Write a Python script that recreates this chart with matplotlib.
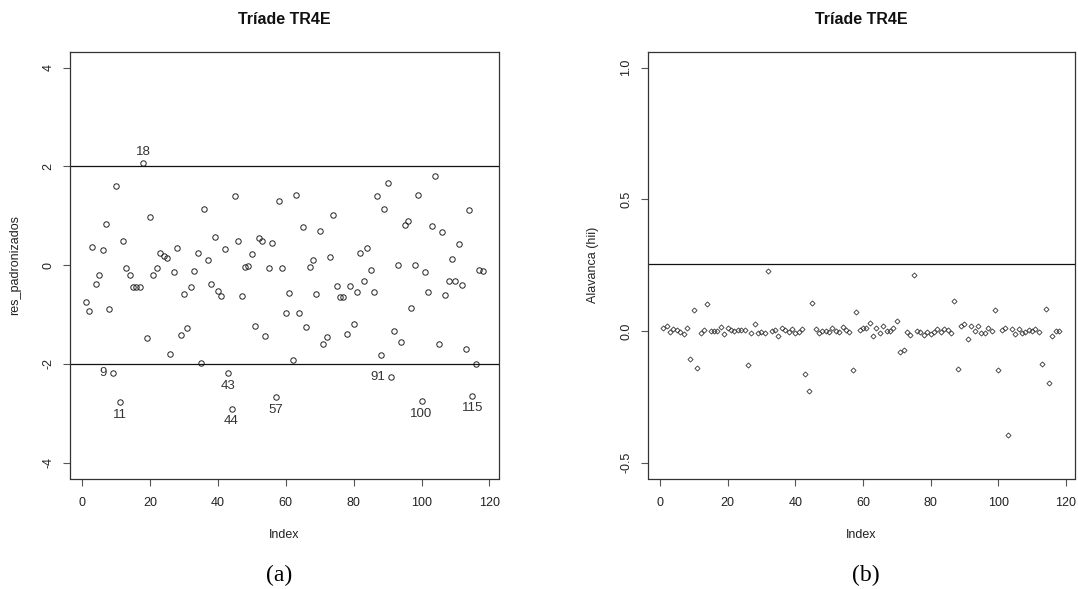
import matplotlib
matplotlib.use("Agg")
import matplotlib.pyplot as plt
import numpy as np

plt.rcParams['font.family'] = ['Liberation Sans', 'DejaVu Sans']

# ---- data ----
index = list(range(1, 119))

res_padronizados = [
    -0.745, -0.935, 0.365, -0.38, -0.20, 0.30, 0.84, -0.89, -2.19, 1.60,
    -2.78, 0.49, -0.05, -0.21, -0.44, -0.44, -0.44, 2.06, -1.48, 0.98,
    -0.21, -0.05, 0.24, 0.19, 0.15, -1.79, -0.14, 0.34, -1.42, -0.59,
    -1.28, -0.44, -0.11, 0.25, -1.98, 1.13, 0.11, -0.38, 0.56, -0.53,
    -0.63, 0.33, -2.19, -2.91, 1.40, 0.49, -0.63, -0.03, -0.02, 0.22,
    -1.23, 0.55, 0.49, -1.44, -0.05, 0.45, -2.68, 1.29, -0.06, -0.96,
    -0.56, -1.92, 1.41, -0.96, 0.78, -1.25, -0.03, 0.11, -0.59, 0.70,
    -1.59, -1.46, 0.17, 1.01, -0.43, -0.65, -0.65, -1.39, -0.43, -1.19,
    -0.54, 0.25, -0.33, 0.35, -0.10, -0.54, 1.40, -1.82, 1.13, 1.67,
    -2.27, -1.34, 0.00, -1.56, 0.81, 0.90, -0.86, 0.00, 1.41, -2.76,
    -0.14, -0.54, 0.80, 1.80, -1.59, 0.68, -0.61, -0.33, 0.12, -0.33,
    0.43, -0.40, -1.70, 1.12, -2.64, -2.00, -0.09, -0.11,
]

alavanca = [
    0.013, 0.017, -0.003, 0.007, 0.004, -0.003, -0.011, 0.013, -0.108, 0.081,
    -0.139, -0.006, 0.003, 0.102, 0.000, 0.000, 0.000, 0.016, -0.010, 0.010,
    0.003, 0.000, 0.003, 0.003, 0.003, -0.131, -0.009, 0.026, -0.009, -0.003,
    -0.009, 0.227, 0.000, 0.003, -0.018, 0.013, 0.004, -0.003, 0.007, -0.006,
    -0.003, 0.007, -0.165, -0.227, 0.105, 0.007, -0.006, 0.000, 0.000, -0.003,
    0.013, 0.000, -0.003, 0.016, 0.003, -0.003, -0.149, 0.072, 0.004, 0.010,
    0.010, 0.031, -0.021, 0.013, -0.009, 0.018, 0.000, 0.000, 0.010, 0.038,
    -0.080, -0.071, -0.003, -0.016, 0.214, 0.000, -0.003, -0.016, -0.003, -0.013,
    -0.003, 0.007, -0.003, 0.007, 0.003, -0.006, 0.112, -0.146, 0.018, 0.026,
    -0.030, 0.018, 0.000, 0.018, -0.009, -0.009, 0.010, 0.000, 0.078, -0.149,
    0.004, 0.010, -0.395, 0.007, -0.011, 0.007, -0.006, -0.003, 0.004, 0.000,
    0.007, -0.003, -0.126, 0.084, -0.199, -0.018, 0.000, 0.000,
]

res_limits = [-2, 2]
alavanca_limit = [0.254]

# labelled observations: (index, position)
label_ids = [9, 11, 18, 43, 44, 57, 91, 100, 115]
label_pos = ['left', 'below', 'above', 'below', 'below', 'below', 'left', 'below', 'below']

title = "Tríade TR4E"

# ---- figure ----
W, H = 1078, 589
fig = plt.figure(figsize=(W / 100, H / 100), dpi=100)

def px_axes(x0, x1, y0, y1):
    return fig.add_axes([x0 / W, 1 - y1 / H, (x1 - x0) / W, (y1 - y0) / H])

axA = px_axes(69.7, 498.5, 51.7, 478.5)
axB = px_axes(647.5, 1075.0, 51.7, 478.5)

spine_col = '#333333'
tick_col = '#555555'
text_col = '#222222'

for ax in (axA, axB):
    for s in ax.spines.values():
        s.set_color(spine_col)
        s.set_linewidth(0.9)
    ax.set_xlim(-3.68, 122.68)
    ax.set_xticks([0, 20, 40, 60, 80, 100, 120])
    ax.tick_params(axis='both', length=5, width=0.8, color=tick_col,
                   labelsize=9, labelcolor=text_col)
    ax.tick_params(axis='x', pad=8)
    ax.tick_params(axis='y', pad=6, labelrotation=90)

# panel (a)
axA.set_ylim(-4.32, 4.32)
axA.set_yticks([-4, -2, 0, 2, 4])
axA.set_yticklabels(['-4', '-2', '0', '2', '4'], va='center')
axA.plot(index, res_padronizados, linestyle='none', marker='o', ms=3.9,
         mfc='none', mec='#222222', mew=0.7)
for lim in res_limits:
    axA.axhline(lim, color='#111111', lw=0.9)

offsets = {'left': ((-4, 0), 'right', 'center'),
           'below': ((0, -4.5), 'center', 'top'),
           'above': ((0, 4), 'center', 'bottom')}
for i, p in zip(label_ids, label_pos):
    (dx, dy), ha, va = offsets[p]
    axA.annotate(str(i), (index[i - 1], res_padronizados[i - 1]),
                 xytext=(dx, dy), textcoords='offset points',
                 ha=ha, va=va, fontsize=9.5, color='#333333')

# panel (b)
axB.set_ylim(-0.56, 1.06)
axB.set_yticks([-0.5, 0.0, 0.5, 1.0])
axB.set_yticklabels(['-0.5', '0.0', '0.5', '1.0'], va='center')
axB.plot(index, alavanca, linestyle='none', marker='D', ms=2.6,
         mfc='none', mec='#333333', mew=0.6)
for lim in alavanca_limit:
    axB.axhline(lim, color='#111111', lw=0.9)

# titles
fig.text(284 / W, 1 - 20 / H, title, ha='center', va='center',
         fontsize=11.5, fontweight='bold', color='#111111')
fig.text(861 / W, 1 - 20 / H, title, ha='center', va='center',
         fontsize=11.5, fontweight='bold', color='#111111')

# axis labels
fig.text(15.6 / W, 1 - 265 / H, 'res_padronizados', rotation=90,
         ha='center', va='center', fontsize=9, color=text_col)
fig.text(593 / W, 1 - 265 / H, 'Alavanca (hii)', rotation=90,
         ha='center', va='center', fontsize=9, color=text_col)
fig.text(284 / W, 1 - 535 / H, 'Index', ha='center', va='center',
         fontsize=9, color=text_col)
fig.text(861 / W, 1 - 535 / H, 'Index', ha='center', va='center',
         fontsize=9, color=text_col)

# panel captions
fig.text(279 / W, 1 - 575 / H, '(a)', ha='center', va='center',
         fontsize=17, family='Liberation Serif', color='black')
fig.text(866 / W, 1 - 575 / H, '(b)', ha='center', va='center',
         fontsize=17, family='Liberation Serif', color='black')

fig.savefig('out.png', dpi=100)
